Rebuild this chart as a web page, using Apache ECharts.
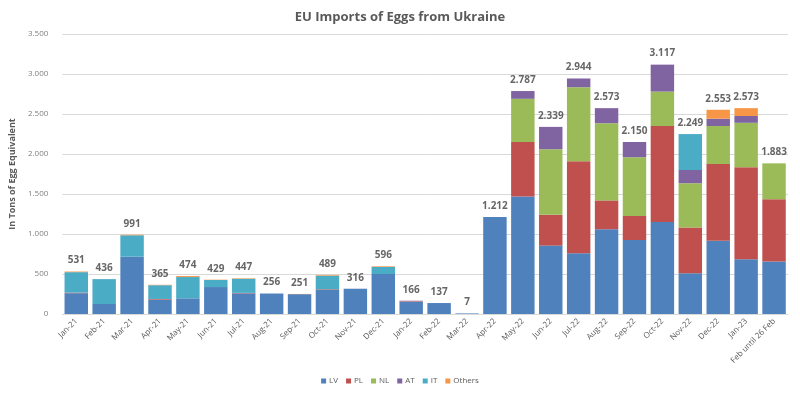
<!DOCTYPE html>
<html>
<head>
<meta charset="utf-8">
<script src="https://cdn.jsdelivr.net/npm/echarts@6/dist/echarts.min.js"></script>
<style>html,body{margin:0;padding:0;background:#fff;}#c{width:800px;height:393px;}</style>
</head>
<body>
<div id="c"></div>
<script>
var categories = ["Jan-21","Feb-21","Mar-21","Apr-21","May-21","Jun-21","Jul-21","Aug-21","Sep-21","Oct-21","Nov-21","Dec-21","Jan-22","Feb-22","Mar-22","Apr-22","May-22","Jun-22","Jul-22","Aug-22","Sep-22","Oct-22","Nov-22","Dec-22","Jan-23","Feb until 26 Feb"];
var LV     = [260,125,716,180,196,337,258,256,248,300,316,500,155,137,7,1212,1470,855,760,1060,925,1150,510,915,685,655];
var PL     = [4,0,0,8,0,0,6,0,0,8,0,0,6,0,0,0,680,385,1150,360,300,1200,570,960,1150,780];
var NL     = [0,0,0,0,0,0,0,0,0,0,0,0,0,0,0,0,540,820,925,965,735,430,555,475,555,448];
var AT     = [4,0,0,0,0,0,0,0,0,0,0,0,5,0,0,0,97,279,109,188,190,337,165,91,85,0];
var IT     = [255,311,268,172,266,88,177,0,0,172,0,88,0,0,0,0,0,0,0,0,0,0,449,0,0,0];
var Others = [8,0,7,5,12,4,6,0,3,9,0,8,0,0,0,0,0,0,0,0,0,0,0,112,98,0];
var totals = [531,436,991,365,474,429,447,256,251,489,316,596,166,137,7,1212,2787,2339,2944,2573,2150,3117,2249,2553,2573,1883];
var yTicks = [0,500,1000,1500,2000,2500,3000,3500];

function fmt(v){ return String(v).replace(/\B(?=(\d{3})+(?!\d))/g, '.'); }

var seriesDefs = [
  ['LV', LV, '#4f81bd'],
  ['PL', PL, '#c0504d'],
  ['NL', NL, '#9bbb59'],
  ['AT', AT, '#8064a2'],
  ['IT', IT, '#4bacc6'],
  ['Others', Others, '#f79646']
];
var series = seriesDefs.map(function(d){
  return {name:d[0], type:'bar', stack:'all', data:d[1], barCategoryGap:'16%',
    itemStyle:{color:d[2]}, emphasis:{disabled:true}};
});
series.push({name:'Total', type:'scatter', data:totals, symbolSize:0, silent:true,
  label:{show:true, position:'top', distance:6, formatter:function(p){return fmt(p.value);},
    color:'#404040', fontWeight:'bold', fontSize:10, fontFamily:'Open Sans'}});

var chart = echarts.init(document.getElementById('c'));
chart.setOption({
  animation:false,
  backgroundColor:'#fff',
  title:{text:'EU Imports of Eggs from Ukraine', left:'center', top:6,
    textStyle:{color:'#595959', fontSize:13, fontWeight:'bold', fontFamily:'Open Sans'}},
  legend:{data:['LV','PL','NL','AT','IT','Others'], bottom:3, left:'center', itemWidth:5, itemHeight:5, itemGap:8,
    icon:'rect', textStyle:{color:'#595959', fontSize:8, fontFamily:'Open Sans', padding:[0,0,0,-2]}},
  grid:{left:55, right:12, top:34, bottom:79},
  xAxis:{type:'category', data:categories,
    axisLine:{lineStyle:{color:'#d9d9d9'}}, axisTick:{show:false},
    axisLabel:{rotate:45, color:'#595959', fontSize:8, fontFamily:'Open Sans', interval:0, margin:6}},
  yAxis:{type:'value', min:0, max:3500, interval:500,
    name:'In Tons of Egg Equivalent', nameLocation:'middle', nameGap:40, nameRotate:90,
    nameTextStyle:{color:'#595959', fontSize:9, fontWeight:'bold', fontFamily:'Open Sans'},
    axisLine:{show:false}, axisTick:{show:false},
    splitLine:{lineStyle:{color:'#d9d9d9'}},
    axisLabel:{color:'#7f7f7f', fontSize:8, fontFamily:'Open Sans', margin:14,
      formatter:function(v){return fmt(v);}}},
  series:series
});
</script>
</body>
</html>
